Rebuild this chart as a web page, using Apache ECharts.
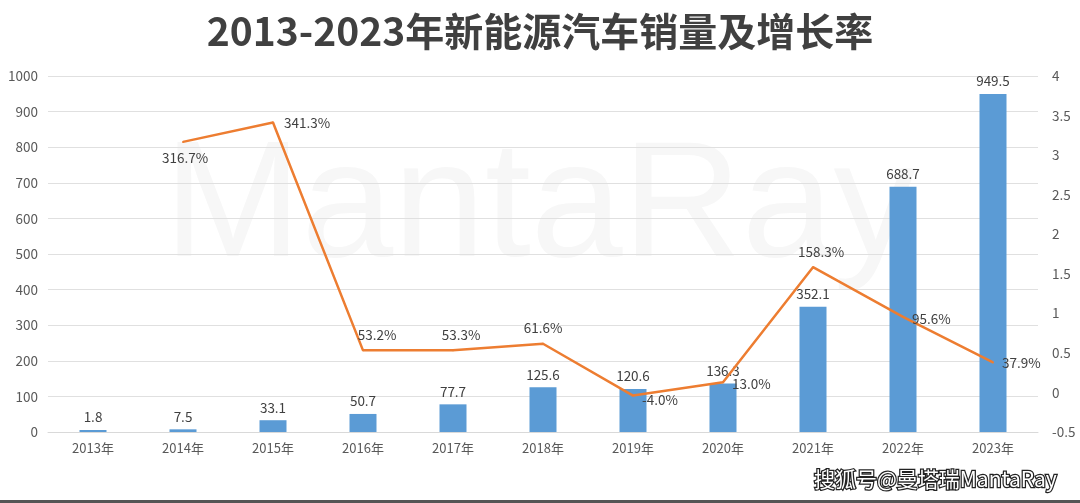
<!DOCTYPE html>
<html><head><meta charset="utf-8">
<script src="https://cdn.jsdelivr.net/npm/echarts@6/dist/echarts.min.js"></script>
<style>html,body{margin:0;padding:0;background:#fff}#c{width:1080px;height:503px}</style>
</head><body><div id="c"></div>
<script>
const categories = ['2013年','2014年','2015年','2016年','2017年','2018年','2019年','2020年','2021年','2022年','2023年'];
const sales = [1.8, 7.5, 33.1, 50.7, 77.7, 125.6, 120.6, 136.3, 352.1, 688.7, 949.5];
const growth = [null, 3.167, 3.413, 0.532, 0.533, 0.616, -0.040, 0.130, 1.583, 0.956, 0.379];
const growthLabelPos = [null, 'bottom', 'right', 'top', 'top', 'top', 'right', 'right', 'top', 'right', 'right'];
const growthLabelOffset = [null, [2,0], [2,0], [14,0], [8,0], [0,0], [0,4], [0,2], [8,0], [0,2], [0,0]];

const chart = echarts.init(document.getElementById('c'));
const FONT = '"Noto Sans CJK SC","Open Sans",sans-serif';
chart.setOption({
  backgroundColor: '#fff',
  textStyle: {fontFamily: FONT},
  title: {
    text: '2013-2023年新能源汽车销量及增长率',
    left: 'center', top: 7,
    textStyle: {fontSize: 39, fontWeight: 'bold', color: '#404040', fontFamily: FONT}
  },
  graphic: [
    {type: 'text', left: 'center', top: 128, z: -10, silent: true,
     style: {text: 'MantaRay', font: '165px "Liberation Sans", sans-serif', fill: '#f7f7f7'}},
    {type: 'text', right: 22, top: 467, z: 100, silent: true,
     style: {text: '搜狐号@曼塔瑞MantaRay', font: '21px "Noto Sans CJK SC", sans-serif', fill: '#fff', stroke: '#222', lineWidth: 2.5}},
    {type: 'rect', shape: {x: 0, y: 500, width: 1080, height: 3}, style: {fill: '#555'}}
  ],
  grid: {left: 48, right: 42, top: 76, bottom: 71},
  xAxis: {
    type: 'category', data: categories,
    axisLine: {lineStyle: {color: '#d9d9d9'}},
    axisTick: {show: false},
    axisLabel: {color: '#595959', fontSize: 13, margin: 10}
  },
  yAxis: [
    {type: 'value', min: 0, max: 1000, interval: 100,
     axisLine: {show: false}, axisTick: {show: false},
     axisLabel: {color: '#595959', fontSize: 13.5, margin: 10, formatter: v => String(v)},
     splitLine: {lineStyle: {color: '#e0e0e0'}}},
    {type: 'value', min: -0.5, max: 4, interval: 0.5,
     axisLine: {show: false}, axisTick: {show: false},
     axisLabel: {color: '#595959', fontSize: 13.5, margin: 14, formatter: v => String(v)},
     splitLine: {show: false}}
  ],
  series: [
    {type: 'bar', name: '销量', data: sales, barWidth: 27, yAxisIndex: 0, barMinHeight: 2,
     itemStyle: {color: '#5B9BD5'},
     label: {show: true, position: 'top', distance: 6, color: '#404040', fontSize: 13.5}},
    {type: 'line', name: '增长率', yAxisIndex: 1, z: 5,
     data: growth.map((v, i) => v === null ? '-' : {
       value: v,
       label: {show: true, position: growthLabelPos[i], offset: growthLabelOffset[i]}
     }),
     symbol: 'circle', symbolSize: 2, showSymbol: true, showAllSymbol: true, connectNulls: false,
     lineStyle: {color: '#ED7D31', width: 2.5},
     itemStyle: {color: '#ED7D31'},
     label: {show: true, color: '#404040', fontSize: 13.5, distance: 8,
       formatter: p => (p.value * 100).toFixed(1) + '%'}}
  ]
});
</script></body></html>
